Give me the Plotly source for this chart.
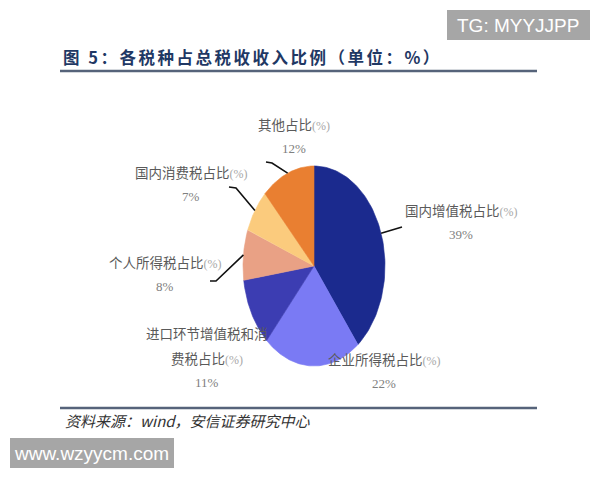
import numpy as np
import plotly.graph_objects as go

# ---- data ----
categories = ["国内增值税占比", "企业所得税占比", "进口环节增值税和消费税占比",
              "个人所得税占比", "国内消费税占比", "其他占比"]
values = [39, 22, 11, 8, 7, 12]
value_labels = ["39%", "22%", "11%", "8%", "7%", "12%"]
# display lines (the long label wraps in the source)
display_lines = [["国内增值税占比"], ["企业所得税占比"], ["进口环节增值税和消", "费税占比"],
                 ["个人所得税占比"], ["国内消费税占比"], ["其他占比"]]
colors = ["#1B2A8E", "#7A7AF4", "#3C3DB2", "#E9A185", "#FBCB7D", "#E97F31"]

title = "图 5：各税种占总税收收入比例（单位：%）"
source = "资料来源：wind，安信证券研究中心"

# ---- layout params (pixel space) ----
W, H = 600, 480
cx, cy, rx, ry = 314, 266, 71, 100
label_pos = [(461, 210), (384, 359), (207, 333), (165, 262), (191, 172), (294, 124)]
# leader elbows (None = no leader line)
leaders = [[(402, 227)], None, None, [(216, 281), (210, 281)],
           [(236, 188), (229, 187)], [(272, 163), (266, 162)]]
line_gap = 25

fig = go.Figure()

total = sum(values)
cum = np.concatenate([[0], np.cumsum(values)]) / total * 2 * np.pi
for i, v in enumerate(values):
    a = np.linspace(cum[i], cum[i + 1], 80)
    xs = np.concatenate([[cx], cx + rx * np.sin(a), [cx]])
    ys = np.concatenate([[cy], cy - ry * np.cos(a), [cy]])
    fig.add_trace(go.Scatter(x=xs, y=ys, mode="lines", fill="toself",
                             fillcolor=colors[i], line=dict(width=0.6, color=colors[i]),
                             hoverinfo="text", text=f"{categories[i]} {value_labels[i]}",
                             showlegend=False))

# leader lines from mid-angle on the ellipse edge
for i, v in enumerate(values):
    if leaders[i] is None:
        continue
    m = (cum[i] + cum[i + 1]) / 2
    px, py = cx + rx * np.sin(m), cy - ry * np.cos(m)
    xs = [px] + [p[0] for p in leaders[i]]
    ys = [py] + [p[1] for p in leaders[i]]
    fig.add_trace(go.Scatter(x=xs, y=ys, mode="lines",
                             line=dict(color="#111111", width=1.6),
                             hoverinfo="skip", showlegend=False))

cjk = "Noto Sans CJK SC"
serif = "Liberation Serif"
pct_span = "<span style='font-family:Liberation Serif;color:#A8A8A8;font-size:12px'>(%)</span>"

annotations = []
for i, lines in enumerate(display_lines):
    x0, y0 = label_pos[i]
    for j, ln in enumerate(lines):
        txt = ln + (pct_span if j == len(lines) - 1 else "")
        annotations.append(dict(x=x0, y=y0 + j * line_gap, xref="x", yref="y", text=txt,
                                showarrow=False, xanchor="center", yanchor="middle",
                                font=dict(family=cjk, size=13.5, color="#5A5A5A")))
    annotations.append(dict(x=x0, y=y0 + len(lines) * line_gap - 1, xref="x", yref="y",
                            text=value_labels[i], showarrow=False, xanchor="center",
                            yanchor="middle", font=dict(family=serif, size=13, color="#808080")))

# title & source
annotations.append(dict(x=61, y=57, xref="x", yref="y",
                        text="<b><span style='letter-spacing:2.5px'>" + title + "</span></b>",
                        showarrow=False, xanchor="left", yanchor="middle",
                        font=dict(family=cjk, size=16.5, color="#1F3864")))
annotations.append(dict(x=63, y=420, xref="x", yref="y", text="<i>" + source + "</i>",
                        showarrow=False, xanchor="left", yanchor="middle",
                        font=dict(family=cjk, size=15, color="#333333")))
# watermarks
annotations.append(dict(x=518, y=25, xref="x", yref="y", text="TG: MYYJJPP",
                        showarrow=False, xanchor="center", yanchor="middle",
                        font=dict(family="Liberation Sans", size=19, color="white")))
annotations.append(dict(x=91, y=453, xref="x", yref="y", text="www.wzyycm.com",
                        showarrow=False, xanchor="center", yanchor="middle",
                        font=dict(family="Liberation Sans", size=19, color="white")))

shapes = [
    dict(type="line", x0=60, x1=537, y0=71, y1=71, xref="x", yref="y",
         line=dict(color="#56637A", width=2.5)),
    dict(type="line", x0=60, x1=537, y0=408, y1=408, xref="x", yref="y",
         line=dict(color="#56637A", width=2.5)),
    dict(type="rect", x0=447, x1=590, y0=10, y1=40, xref="x", yref="y",
         fillcolor="#A6A6A6", line=dict(width=0), layer="below"),
    dict(type="rect", x0=10, x1=174, y0=438, y1=468, xref="x", yref="y",
         fillcolor="#A6A6A6", line=dict(width=0), layer="below"),
]

fig.update_layout(
    width=W, height=H, margin=dict(l=0, r=0, t=0, b=0),
    paper_bgcolor="white", plot_bgcolor="white",
    xaxis=dict(range=[0, W], visible=False, fixedrange=True),
    yaxis=dict(range=[H, 0], visible=False, fixedrange=True),
    annotations=annotations, shapes=shapes,
)

fig.write_html("out.html", config={"displayModeBar": False},
               post_script="document.body.style.margin='0';")
